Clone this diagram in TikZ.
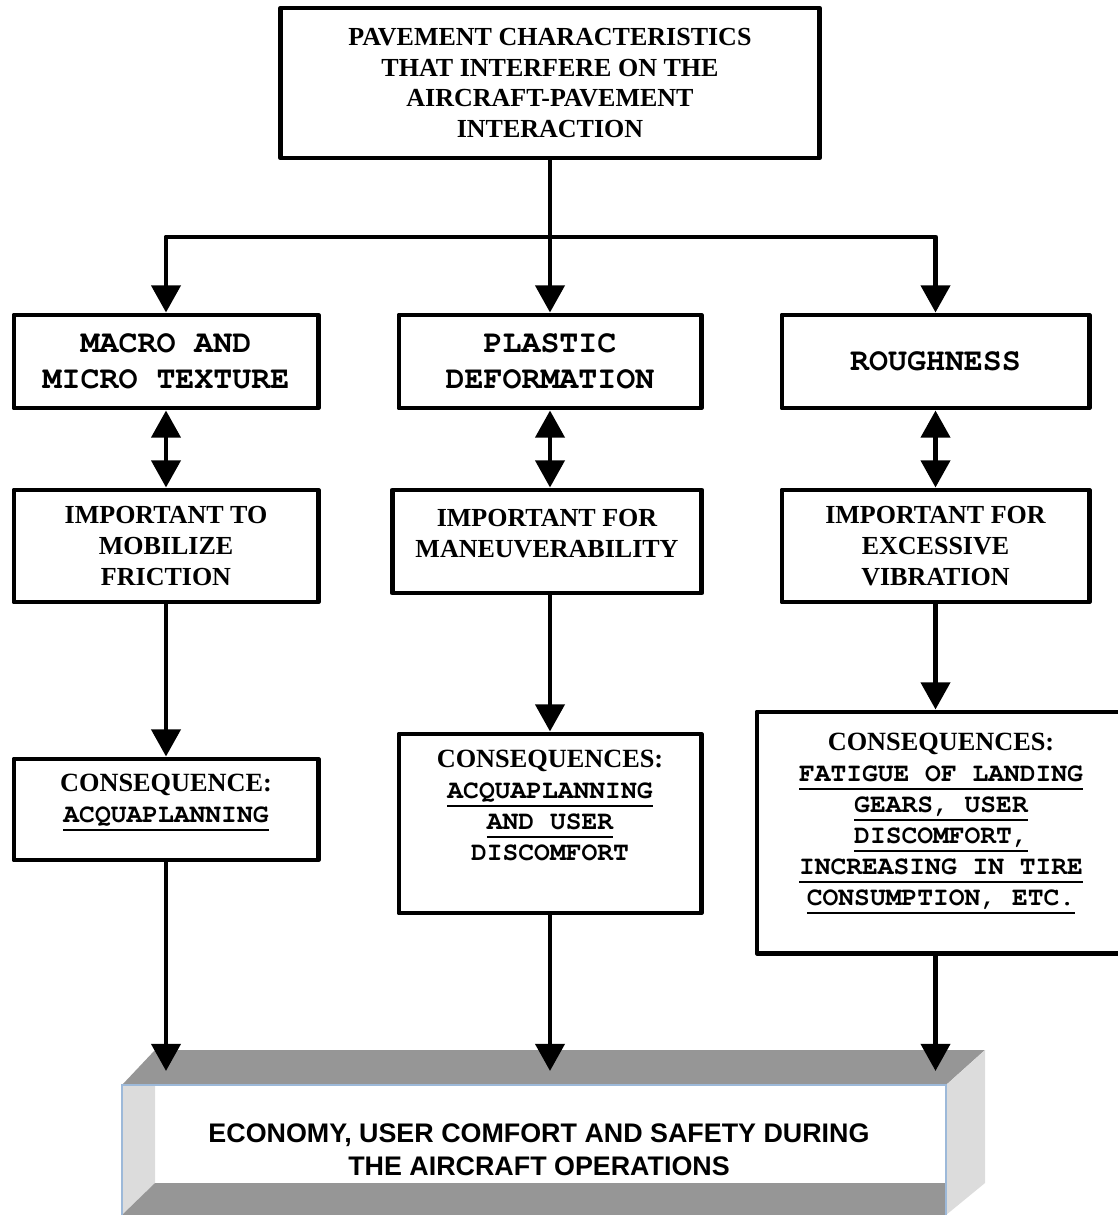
\documentclass[tikz,border=0pt]{standalone}
\usepackage{fontspec}
\setmainfont{Liberation Serif}
\setsansfont{Liberation Sans}
\setmonofont{Liberation Mono}
\usetikzlibrary{arrows.meta}
\definecolor{slabdark}{HTML}{969696}
\definecolor{slablight}{HTML}{DCDCDC}
\definecolor{slabedge}{HTML}{9DB9D9}
\newcommand{\courfam}{\fontencoding{T1}\fontfamily{pcr}\fontseries{b}\selectfont}
\newcommand{\boxserif}{\fontsize{18.5}{22}\selectfont\bfseries}
\newcommand{\boxmono}{\fontsize{18.7}{22}\selectfont\courfam}
\newcommand{\boxmonobig}{\fontsize{22.5}{25.5}\selectfont\courfam}
\newcommand{\ecofont}{\fontsize{19.1}{23.4}\selectfont\sffamily\bfseries}
\newcommand{\undl}[1]{\leavevmode\setbox0=\hbox{#1}\rlap{\rule[-6pt]{\wd0}{1.4pt}}\box0}
\tikzset{
  box/.style={draw, line width=3.5pt, line join=round, align=center, inner sep=0pt},
  arr/.style={line width=3.5pt, line join=round, -{Triangle[length=0.68cm,width=0.72cm]}},
  darr/.style={line width=3.5pt, {Triangle[length=0.68cm,width=0.72cm]}-{Triangle[length=0.68cm,width=0.72cm]}}
}
\begin{document}
\begin{tikzpicture}[x=0.025cm,y=-0.025cm]
	\useasboundingbox (0,0) rectangle (1117,1215);
	\node[box, minimum width=13.45cm, minimum height=3.75cm, font=\boxserif] (pav) at (550,83) {PAVEMENT CHARACTERISTICS\\THAT INTERFERE ON THE\\AIRCRAFT-PAVEMENT\\INTERACTION};
	\node[box, minimum width=7.6cm, minimum height=2.325cm, font=\boxmonobig] (tex) at (166,361.5) {MACRO AND\\MICRO TEXTURE};
	\node[box, minimum width=7.55cm, minimum height=2.325cm, font=\boxmonobig] (pla) at (550,361.5) {PLASTIC\\DEFORMATION};
	\node[box, minimum width=7.675cm, minimum height=2.325cm, font=\boxmonobig] (rou) at (935.5,361.5) {ROUGHNESS};
	\node[box, minimum width=7.6cm, minimum height=2.8cm, font=\boxserif] (fri) at (166,546) {IMPORTANT TO\\MOBILIZE\\FRICTION};
	\node[box, minimum width=7.725cm, minimum height=2.575cm, text depth=0.42cm, font=\boxserif] (man) at (547,541.5) {IMPORTANT FOR\\MANEUVERABILITY};
	\node[box, minimum width=7.675cm, minimum height=2.8cm, font=\boxserif] (vib) at (935.5,546) {IMPORTANT FOR\\EXCESSIVE\\VIBRATION};
	\node[box, minimum width=7.6cm, minimum height=2.525cm, text depth=0.56cm, font=\boxmono] (acq) at (166,809.5) {{\fontencoding{TU}\rmfamily\bfseries CONSEQUENCE:}\\\undl{ACQUAPLANNING}};
	\node[box, minimum width=7.55cm, minimum height=4.475cm, text depth=0.9cm, font=\boxmono] (aqd) at (550,823.5) {{\fontencoding{TU}\rmfamily\bfseries CONSEQUENCES:}\\\undl{ACQUAPLANNING}\\\undl{AND USER}\\DISCOMFORT};
	\node[box, minimum width=9.2cm, minimum height=6.025cm, text depth=0.66cm, font=\boxmono] (csq) at (941,832.5) {{\fontencoding{TU}\rmfamily\bfseries CONSEQUENCES:}\\\undl{FATIGUE OF LANDING}\\\undl{GEARS, USER}\\\undl{DISCOMFORT,}\\\undl{INCREASING IN TIRE}\\\undl{CONSUMPTION, ETC.}};
	\fill[slabdark] (122,1085) -- (155,1050) -- (985,1050) -- (946,1085) -- cycle;
	\fill[slablight] (946,1085) -- (985,1050) -- (985,1183) -- (946,1215) -- cycle;
	\fill[slablight] (122,1085) -- (155,1085) -- (155,1183) -- (122,1215) -- cycle;
	\fill[slabdark] (122,1215) -- (155,1183) -- (946,1183) -- (946,1215) -- cycle;
	\draw[slabedge, line width=1.2pt] (122,1215) -- (122,1085) -- (946,1085) -- (946,1215);
	\node[font=\ecofont, align=center] (eco) at (539,1150) {ECONOMY, USER COMFORT AND SAFETY DURING\\THE AIRCRAFT OPERATIONS};
	\coordinate (split) at (550,237);
	\coordinate (slab) at (540,1071);
	\draw[arr] (pav) -- (pla);
	\draw[arr] (split) -| (tex.north);
	\draw[arr] (split) -| (rou.north);
	\draw[darr] (tex) -- (fri);
	\draw[darr] (pla.south) -- (pla.south |- man.north);
	\draw[darr] (rou) -- (vib);
	\draw[arr] (fri) -- (acq);
	\draw[arr] (pla.south |- man.south) -- (pla.south |- aqd.north);
	\draw[arr] (vib.south) -- (vib.south |- csq.north);
	\draw[arr] (acq) -- (acq |- slab);
	\draw[arr] (aqd) -- (aqd |- slab);
	\draw[arr] (vib |- csq.south) -- (vib |- slab);
\end{tikzpicture}
\end{document}
